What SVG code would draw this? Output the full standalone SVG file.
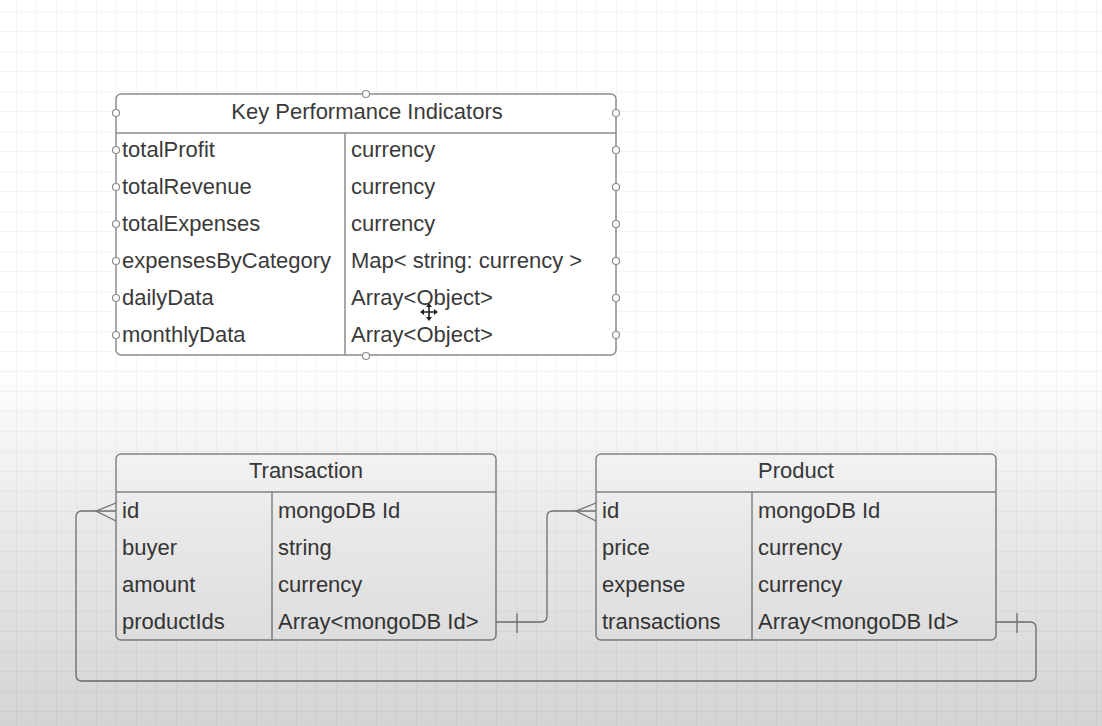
<svg xmlns="http://www.w3.org/2000/svg" width="1102" height="726" viewBox="0 0 1102 726">
<defs>
<pattern id="grid" x="-3" y="-8" width="20" height="20" patternUnits="userSpaceOnUse">
<path d="M20 0V20M0 20H20" fill="none" stroke="#ebebee" stroke-width="1"/>
</pattern>
<linearGradient id="shade" x1="0" y1="0" x2="0" y2="726" gradientUnits="userSpaceOnUse">
<stop offset="0" stop-color="#000" stop-opacity="0"/>
<stop offset="0.5" stop-color="#000" stop-opacity="0"/>
<stop offset="0.7" stop-color="#000" stop-opacity="0.08"/>
<stop offset="1" stop-color="#000" stop-opacity="0.17"/>
</linearGradient>
</defs>
<style>
.box{fill:#fff;stroke:#8c8c8c;stroke-width:1.5}
.ln{fill:none;stroke:#8c8c8c;stroke-width:1.5}
.cn{fill:none;stroke:#7a7a7a;stroke-width:1.3}
.pt{fill:#fff;stroke:#8c8c8c;stroke-width:1.2}
text{font-family:"Liberation Sans",Arial,sans-serif;font-size:22px;fill:#3a3a3a}
.h{text-anchor:middle}
</style>
<rect width="1102" height="726" fill="#fff"/>
<rect width="1102" height="726" fill="url(#grid)"/>

<g id="kpi">
<rect class="box" x="116" y="94" width="500" height="261" rx="5"/>
<path class="ln" d="M116 133H616M345 133V355"/>
<text class="h" x="367" y="119">Key Performance Indicators</text>
<text x="122" y="157">totalProfit</text>
<text x="122" y="194">totalRevenue</text>
<text x="122" y="231">totalExpenses</text>
<text x="122" y="268">expensesByCategory</text>
<text x="122" y="305">dailyData</text>
<text x="122" y="342">monthlyData</text>
<text x="351" y="157">currency</text>
<text x="351" y="194">currency</text>
<text x="351" y="231">currency</text>
<text x="351" y="268">Map&lt; string: currency &gt;</text>
<text x="351" y="305">Array&lt;Object&gt;</text>
<text x="351" y="342">Array&lt;Object&gt;</text>
<g>
<circle class="pt" cx="366" cy="94" r="3.5"/>
<circle class="pt" cx="366" cy="356" r="3.5"/>
<circle class="pt" cx="116" cy="113" r="3.5"/>
<circle class="pt" cx="116" cy="150" r="3.5"/>
<circle class="pt" cx="116" cy="187" r="3.5"/>
<circle class="pt" cx="116" cy="224" r="3.5"/>
<circle class="pt" cx="116" cy="261" r="3.5"/>
<circle class="pt" cx="116" cy="298" r="3.5"/>
<circle class="pt" cx="116" cy="335" r="3.5"/>
<circle class="pt" cx="616" cy="113" r="3.5"/>
<circle class="pt" cx="616" cy="150" r="3.5"/>
<circle class="pt" cx="616" cy="187" r="3.5"/>
<circle class="pt" cx="616" cy="224" r="3.5"/>
<circle class="pt" cx="616" cy="261" r="3.5"/>
<circle class="pt" cx="616" cy="298" r="3.5"/>
<circle class="pt" cx="616" cy="335" r="3.5"/>
</g>
</g>

<g id="transaction">
<rect class="box" x="116" y="454" width="380" height="186" rx="5"/>
<path class="ln" d="M116 492H496M272 492V640"/>
<text class="h" x="306" y="478">Transaction</text>
<text x="122" y="518">id</text>
<text x="122" y="555">buyer</text>
<text x="122" y="592">amount</text>
<text x="122" y="629">productIds</text>
<text x="278" y="518">mongoDB Id</text>
<text x="278" y="555">string</text>
<text x="278" y="592">currency</text>
<text x="278" y="629">Array&lt;mongoDB Id&gt;</text>
</g>

<g id="product">
<rect class="box" x="596" y="454" width="400" height="186" rx="5"/>
<path class="ln" d="M596 492H996M752 492V640"/>
<text class="h" x="796" y="478">Product</text>
<text x="602" y="518">id</text>
<text x="602" y="555">price</text>
<text x="602" y="592">expense</text>
<text x="602" y="629">transactions</text>
<text x="758" y="518">mongoDB Id</text>
<text x="758" y="555">currency</text>
<text x="758" y="592">currency</text>
<text x="758" y="629">Array&lt;mongoDB Id&gt;</text>
</g>

<g id="connectors">
<path class="cn" d="M496 622H541Q547 622 547 616V517Q547 511 553 511H596"/>
<path class="cn" d="M517 613V633"/>
<path class="cn" d="M596 503L576 511L596 521"/>
<path class="cn" d="M996 622H1030Q1036 622 1036 628V675Q1036 681 1030 681H82Q76 681 76 675V517Q76 511 82 511H116"/>
<path class="cn" d="M1017 613V633"/>
<path class="cn" d="M116 503L96 511L116 521"/>
</g>

<g id="cursor">
<path d="M429 305V319M422 312H436" stroke="#222" stroke-width="1.6"/>
<path d="M429 303L426 307H432ZM429 321L426 317H432ZM420 312L424 309V315ZM438 312L434 309V315Z" fill="#222"/>
</g>

<rect width="1102" height="726" fill="url(#shade)"/>
</svg>
